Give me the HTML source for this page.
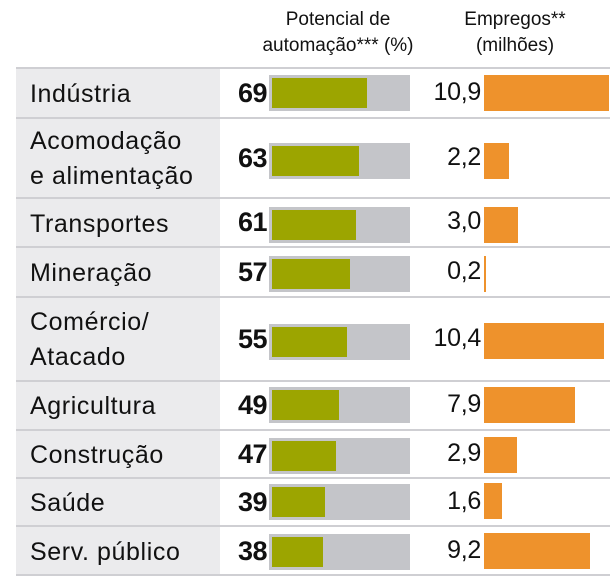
<!DOCTYPE html>
<html><head><meta charset="utf-8"><style>
body{margin:0;width:615px;height:588px;background:#fff;position:relative;overflow:hidden;font-family:"Liberation Sans",sans-serif;color:#111}
.a{position:absolute}
.hd{font-size:19px;text-align:center;line-height:26px}
.lab{left:30px;font-size:25px;line-height:35px;letter-spacing:0.6px}
.num{font-size:27px;font-weight:bold;width:60px;left:207px;text-align:right;letter-spacing:-0.5px}
.val{font-size:25px;width:70px;left:411px;text-align:right;letter-spacing:-0.3px}
.gb{left:269px;width:141px;height:36px;background:#c4c5c9}
.gr{background:#9ca500;height:30px;top:3px;left:3px;position:absolute}
.or{left:484px;height:36px;background:#ee922c}
.ln{left:16px;width:594px;height:2px;background:#cfcfd3}
</style></head><body>
<div class="a" style="left:16px;top:68px;width:204px;height:508px;background:#ebebed"></div>
<div class="a hd" style="left:248px;top:7px;width:180px">Potencial de<br>automação*** (%)</div>
<div class="a hd" style="left:430px;top:7px;width:170px">Empregos**<br>(milhões)</div>

<div class="a ln" style="top:67px"></div>
<div class="a ln" style="top:117px"></div>
<div class="a ln" style="top:197px"></div>
<div class="a ln" style="top:246px"></div>
<div class="a ln" style="top:296px"></div>
<div class="a ln" style="top:380px"></div>
<div class="a ln" style="top:429px"></div>
<div class="a ln" style="top:477px"></div>
<div class="a ln" style="top:525px"></div>
<div class="a ln" style="top:574px"></div>

<div class="a lab" style="top:77px">Indústria</div>
<div class="a num" style="top:78px">69</div>
<div class="a gb" style="top:75px"><div class="gr" style="width:95px"></div></div>
<div class="a val" style="top:78px">10,9</div>
<div class="a or" style="top:75px;width:125px"></div>

<div class="a lab" style="top:124px">Acomodação<br>e alimentação</div>
<div class="a num" style="top:143px">63</div>
<div class="a gb" style="top:143px"><div class="gr" style="width:87px"></div></div>
<div class="a val" style="top:143px">2,2</div>
<div class="a or" style="top:143px;width:25px"></div>

<div class="a lab" style="top:207px">Transportes</div>
<div class="a num" style="top:207px">61</div>
<div class="a gb" style="top:207px"><div class="gr" style="width:84px"></div></div>
<div class="a val" style="top:207px">3,0</div>
<div class="a or" style="top:207px;width:34px"></div>

<div class="a lab" style="top:256px">Mineração</div>
<div class="a num" style="top:257px">57</div>
<div class="a gb" style="top:256px"><div class="gr" style="width:78px"></div></div>
<div class="a val" style="top:257px">0,2</div>
<div class="a or" style="top:256px;width:2px"></div>

<div class="a lab" style="top:305px">Comércio/<br>Atacado</div>
<div class="a num" style="top:324px">55</div>
<div class="a gb" style="top:324px"><div class="gr" style="width:75px"></div></div>
<div class="a val" style="top:324px">10,4</div>
<div class="a or" style="top:323px;width:120px"></div>

<div class="a lab" style="top:389px">Agricultura</div>
<div class="a num" style="top:390px">49</div>
<div class="a gb" style="top:387px"><div class="gr" style="width:67px"></div></div>
<div class="a val" style="top:390px">7,9</div>
<div class="a or" style="top:387px;width:91px"></div>

<div class="a lab" style="top:438px">Construção</div>
<div class="a num" style="top:439px">47</div>
<div class="a gb" style="top:438px"><div class="gr" style="width:64px"></div></div>
<div class="a val" style="top:439px">2,9</div>
<div class="a or" style="top:437px;width:33px"></div>

<div class="a lab" style="top:486px">Saúde</div>
<div class="a num" style="top:487px">39</div>
<div class="a gb" style="top:484px"><div class="gr" style="width:53px"></div></div>
<div class="a val" style="top:487px">1,6</div>
<div class="a or" style="top:483px;width:18px"></div>

<div class="a lab" style="top:535px">Serv. público</div>
<div class="a num" style="top:536px">38</div>
<div class="a gb" style="top:534px"><div class="gr" style="width:51px"></div></div>
<div class="a val" style="top:536px">9,2</div>
<div class="a or" style="top:533px;width:106px"></div>
</body></html>
